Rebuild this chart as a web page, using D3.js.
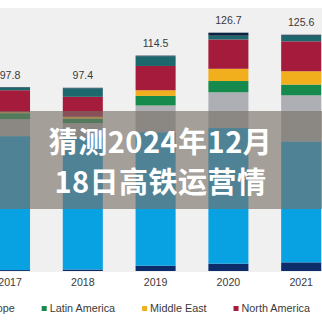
<!DOCTYPE html>
<html>
<head>
<meta charset="utf-8">
<script src="https://cdn.jsdelivr.net/npm/d3@7"></script>
<style>
html,body{margin:0;padding:0;background:#fff;overflow:hidden;}
svg{display:block;}
</style>
</head>
<body>
<svg id="chart" width="322" height="322"></svg>
<script>
const years = ["2017", "2018", "2019", "2020", "2021"];
const totalLabels = ["97.8", "97.4", "114.5", "126.7", "125.6"];
const seriesNames = ["Africa", "Asia Pacific", "Europe", "Latin America", "Middle East", "North America", "Russia & CIS", "Other"];
const africa       = [0.5, 0.8, 2.8, 3.9, 4.6];
const asiaPacific  = [71.2, 70.4, 71.0, 72.1, 64.3];
const europe       = [9.0, 7.4, 14.2, 19.0, 24.5];
const latinAmerica = [3.2, 2.4, 5.1, 6.0, 5.7];
const middleEast   = [0.5, 1.0, 3.0, 6.5, 7.1];
const northAmerica = [11.7, 10.6, 12.9, 15.6, 15.9];
const russiaCIS    = [1.5, 4.5, 5.2, 2.0, 3.0];
const other        = [0.2, 0.3, 0.3, 1.6, 0.5];
const seriesColors = ["#0d2c6c", "#08a2e2", "#adafb4", "#158a4c", "#f1ae1d", "#a51b3b", "#1d686c", "#0b2340"];
const titleLines = ["猜测2024年12月", "18日高铁运营情"];

const seriesValues = [africa, asiaPacific, europe, latinAmerica, middleEast, northAmerica, russiaCIS, other];
const table = years.map((y, i) => {
  const row = {year: y};
  seriesNames.forEach((s, k) => row[s] = seriesValues[k][i]);
  return row;
});

const svg = d3.select("#chart");
const W = 322, H = 322;

// plot background
svg.append("rect").attr("x", 0).attr("y", 8).attr("width", W).attr("height", 264).attr("fill", "#f0f0f1");

const x = d3.scaleBand().domain(years).range([-10, 321.2]).paddingInner(0.45).paddingOuter(0);
const y = d3.scaleLinear().domain([0, 140]).range([271, 271 - 140 * 1.881]);

const stack = d3.stack().keys(seriesNames)(table);

svg.append("g").selectAll("g").data(stack).join("g")
  .attr("fill", (d, i) => seriesColors[i])
  .selectAll("rect").data(d => d).join("rect")
  .attr("x", d => x(d.data.year))
  .attr("width", x.bandwidth())
  .attr("y", d => y(d[1]))
  .attr("height", d => y(d[0]) - y(d[1]));

const totals = years.map((yr, i) => d3.sum(seriesValues, s => s[i]));

svg.append("g").selectAll("text").data(years).join("text")
  .attr("x", d => x(d) + x.bandwidth() / 2)
  .attr("y", (d, i) => y(totals[i]) - 8.5)
  .attr("text-anchor", "middle")
  .attr("font-family", "Liberation Sans, Arial, sans-serif")
  .attr("font-size", "10.6px")
  .attr("fill", "#3a3a3a")
  .text((d, i) => totalLabels[i]);

// x axis labels
const xAxis = d3.axisBottom(x).tickSize(0).tickPadding(0);
const gx = svg.append("g").attr("transform", "translate(0,278)").call(xAxis);
gx.select(".domain").remove();
gx.selectAll("text")
  .attr("font-family", "Liberation Sans, Arial, sans-serif")
  .attr("font-size", "10.6px")
  .attr("fill", "#3a3a3a")
  .attr("dy", "0.8em");

// legend
const legendKeys = seriesNames.slice(1, 7);
const lg = svg.append("g");
const items = lg.selectAll("g").data(legendKeys).join("g");
items.append("rect").attr("width", 5).attr("height", 5).attr("y", 306)
  .attr("fill", d => seriesColors[seriesNames.indexOf(d)]);
items.append("text").attr("x", 8).attr("y", 311.5)
  .attr("font-family", "Liberation Sans, Arial, sans-serif")
  .attr("font-size", "10.8px")
  .attr("fill", "#3a3a3a")
  .text(d => d);
let cx = 0; const pos = [];
items.each(function(d) {
  pos.push(cx);
  const w = d3.select(this).select("text").node().getComputedTextLength();
  cx += 8 + w + 27;
});
const anchorIdx = legendKeys.indexOf("Latin America");
const shift = 41.7 - pos[anchorIdx];
items.attr("transform", (d, i) => `translate(${pos[i] + shift},0)`);

// overlay band with title
svg.append("rect").attr("x", 0).attr("y", 111).attr("width", W).attr("height", 98)
  .attr("fill", "rgb(120,113,103)").attr("fill-opacity", 0.64);
svg.append("g").selectAll("text").data(titleLines).join("text")
  .attr("x", 160.5)
  .attr("y", (d, i) => i === 0 ? 152.5 : 192.5)
  .attr("text-anchor", "middle")
  .attr("font-family", "Noto Sans CJK SC, sans-serif")
  .attr("font-weight", "bold")
  .attr("font-size", "29px")
  .attr("letter-spacing", "0.5px")
  .attr("fill", "#ffffff")
  .text(d => d);
</script>
</body>
</html>
